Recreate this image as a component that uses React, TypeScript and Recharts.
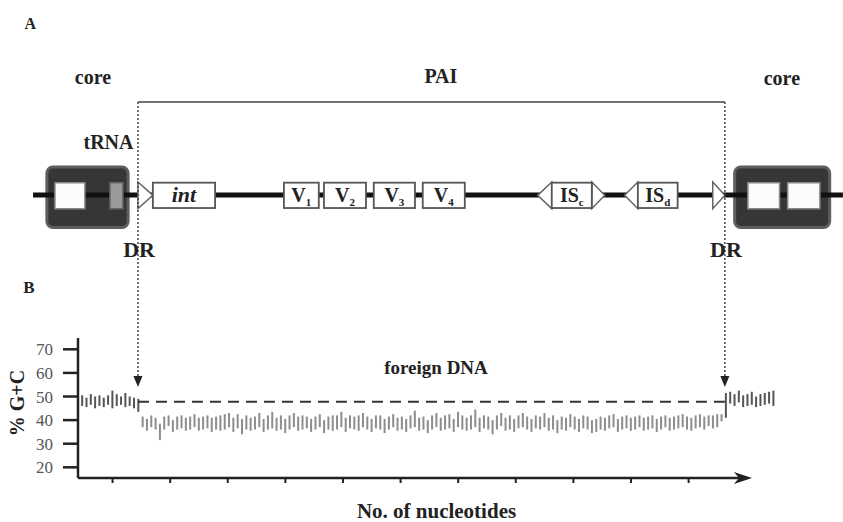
import {
  ComposedChart,
  Bar,
  Scatter,
  XAxis,
  YAxis,
  ReferenceLine,
  ReferenceArea,
  ReferenceDot,
  Label,
} from "recharts";

// %G+C per sliding window (min / max), windows every 0.75 kb
const windowStep = 0.75;
const coreLeftLow = [46, 45.5, 46.5, 45, 46, 45.5, 46.5, 45, 46, 46.5, 45.5, 46, 45, 43.5];
const coreLeftHigh = [50.5, 49.5, 51, 50, 50.5, 49.5, 50.5, 52.5, 51, 50, 51.5, 50, 49.5, 49];
const foreignLow = [
  37, 35.5, 37, 36, 31.5, 36, 37.5, 35, 36, 36.5, 35.5, 36, 37, 35.5, 36,
  36.5, 35, 36, 35.5, 36, 37, 35, 36.5, 34, 36, 35.5, 36, 37, 35, 36,
  36.5, 35.5, 36, 34.5, 36, 37, 35.5, 36, 36.5, 35, 36, 37, 34.5, 36, 35.5,
  36, 37, 35, 36.5, 36, 35.5, 37, 36, 35, 36.5, 36, 34.5, 36, 37, 35.5,
  36, 35, 36.5, 37, 35.5, 36, 34.5, 36, 37, 35.5, 36, 36.5, 35, 37, 36,
  35.5, 36, 37, 35, 36.5, 36, 34, 36, 37.5, 35.5, 36, 35, 36.5, 37, 36,
  35, 36.5, 36, 37, 35.5, 36, 34.5, 36, 35.5, 37, 36, 35, 36.5, 36, 34.5,
  35, 36, 35.5, 36.5, 37, 35, 36, 36.5, 35.5, 36, 37, 35.5, 36, 36.5, 35,
  36, 37, 35.5, 36, 36.5, 37, 36, 35.5, 36.5, 37, 36, 37.5, 36.5, 37, 39.5,
];
const foreignHigh = [
  41.5, 40.5, 42, 41, 38.5, 41.5, 42, 40, 41.5, 42, 41, 41.5, 42.5, 41, 41.5,
  42, 41, 41.5, 42, 42.5, 43, 41, 42.5, 40.5, 42, 41, 41.5, 43, 40.5, 42,
  43.5, 41, 42, 40.5, 42, 43, 41.5, 42, 41.5, 40.5, 41.5, 42.5, 40, 41.5, 42,
  42, 43.5, 41, 42, 41.5, 42, 43, 41.5, 40.5, 42, 42, 40.5, 41.5, 42.5, 41,
  41.5, 40.5, 42, 44, 41, 41.5, 40, 42, 43, 41, 42, 42.5, 40.5, 43.5, 42,
  41, 42, 44.5, 41, 42, 41.5, 40, 42, 43, 41, 42, 40.5, 42, 43, 41.5,
  40.5, 42, 41.5, 43, 41, 42, 40, 41.5, 41, 42.5, 41.5, 40.5, 42, 41.5, 40,
  40.5, 41.5, 41, 42, 42.5, 40.5, 41.5, 42, 41, 41.5, 42, 41, 41.5, 42, 40.5,
  41.5, 42, 41, 41.5, 42, 42.5, 41.5, 41, 42, 42.5, 41.5, 42, 42, 42.5, 42.5,
];
const coreRightLow = [41, 47, 46, 47.5, 45.5, 46, 46.5, 45.5, 46, 46.5, 47, 46];
const coreRightHigh = [51.5, 52, 51, 52.5, 50.5, 51, 52, 50, 51, 51.5, 52, 52.5];

const coreGC = 47.8;
const xTicks = [6, 16, 26, 36, 46, 56, 66, 76, 86, 96, 106];
const yTicks = [20, 30, 40, 50, 60, 70];

// genetic map (kb)
const drSites = [10.41, 112.3];
const coreBlocks = [
  { start: -5.4, end: 8.7 },
  { start: 114.0, end: 130.5 },
];
const coreGenes = [
  { start: -4.0, end: 1.2, kind: "gene" },
  { start: 5.55, end: 7.8, kind: "trna" },
  { start: 116.3, end: 121.8, kind: "gene" },
  { start: 123.2, end: 128.8, kind: "gene" },
];
const islandGenes = [
  { label: "int", sub: "", start: 13.0, end: 23.8, italic: true },
  { label: "V", sub: "1", start: 35.75, end: 41.8, italic: false },
  { label: "V", sub: "2", start: 42.7, end: 50.0, italic: false },
  { label: "V", sub: "3", start: 51.35, end: 58.5, italic: false },
  { label: "V", sub: "4", start: 59.85, end: 67.15, italic: false },
  { label: "IS", sub: "c", start: 82.25, end: 89.2, italic: false },
  { label: "IS", sub: "d", start: 97.2, end: 104.1, italic: false },
];
const repeats = [
  { start: 10.41, end: 13.0, dir: "right" },
  { start: 79.8, end: 82.25, dir: "left" },
  { start: 89.2, end: 91.45, dir: "right" },
  { start: 94.9, end: 97.2, dir: "left" },
  { start: 110.2, end: 112.3, dir: "right" },
];

const gcLow = [...coreLeftLow, ...foreignLow, ...coreRightLow];
const gcHigh = [...coreLeftHigh, ...foreignHigh, ...coreRightHigh];
const gcData = gcLow.map((low, i) => ({
  pos: (i + 1) * windowStep,
  range: [low, gcHigh[i]],
  region:
    i < coreLeftLow.length || i >= coreLeftLow.length + foreignLow.length
      ? "core"
      : "foreign",
}));

// gene midpoints on the track, so the map chart has data for its scales
const mapData = islandGenes.map((g) => ({ pos: (g.start + g.end) / 2, track: 0 }));

const serif = '"Liberation Serif", "Times New Roman", serif';

function CoreBox(p: any) {
  return (
    <rect x={p.x} y={p.y} width={p.width} height={p.height} rx={6}
      fill="#363636" stroke="#5e5e5e" strokeWidth={3} />
  );
}

function GeneBox(p: any) {
  const cx = p.x + p.width / 2;
  const cy = p.y + p.height / 2;
  return (
    <g>
      <rect x={p.x} y={p.y} width={p.width} height={p.height}
        fill="#fff" stroke="#555" strokeWidth={1.8} />
      <text x={cx} y={cy + 7} textAnchor="middle" fontFamily={serif}
        fontWeight="bold" fontStyle={p.italic ? "italic" : "normal"}
        fontSize={p.italic ? 22 : 20} fill="#222">
        {p.label}
        {p.sub ? <tspan fontSize={11} dy={4}>{p.sub}</tspan> : null}
      </text>
    </g>
  );
}

function Flank(p: any) {
  const { x, y, width: w, height: h } = p;
  const pts = p.dir === "right"
    ? `${x},${y} ${x + w},${y + h / 2} ${x},${y + h}`
    : `${x + w},${y} ${x},${y + h / 2} ${x + w},${y + h}`;
  return <polygon points={pts} fill="#fff" stroke="#666" strokeWidth={1.5} />;
}

function DrArrow(p: any) {
  const top = Math.min(p.y1, p.y2);
  const bottom = Math.max(p.y1, p.y2);
  const x = p.x1;
  return (
    <g>
      <line x1={x} y1={top} x2={x} y2={bottom - 10} stroke="#444"
        strokeWidth={1.5} strokeDasharray="2 2" />
      <polygon points={`${x - 4.5},${bottom - 11} ${x + 4.5},${bottom - 11} ${x},${bottom}`}
        fill="#222" />
    </g>
  );
}

function AxisArrow(p: any) {
  const { x1, y1, x2 } = p;
  return (
    <g>
      <line x1={x1} y1={y1} x2={x2 - 8} y2={y1} stroke="#222" strokeWidth={2.5} />
      <polygon
        points={`${x2},${y1} ${x2 - 18},${y1 - 6} ${x2 - 13},${y1} ${x2 - 18},${y1 + 6}`}
        fill="#222" />
    </g>
  );
}

function WindowBar(p: any) {
  return (
    <rect x={p.x} y={p.y} width={p.width} height={p.height}
      fill={p.payload.region === "foreign" ? "#8d8d8d" : "#555"} />
  );
}

function GcLabel(p: any) {
  const vb = p.viewBox;
  const cx = vb.x + 17;
  const cy = vb.y + vb.height / 2 - 5;
  return (
    <text x={cx} y={cy} transform={`rotate(-90 ${cx} ${cy})`} textAnchor="middle"
      dominantBaseline="central" fontFamily={serif} fontWeight="bold"
      fontSize={20} fill="#222">
      % G+C
    </text>
  );
}

const note = (key: string, text: string, x: number, y: number, size: number) => (
  <ReferenceDot key={key} x={x} y={y} r={0} fill="none" stroke="none" ifOverflow="visible"
    label={{ value: text, position: "center", fontSize: size, fontWeight: "bold",
      fontFamily: serif, fill: "#222" }} />
);

export default function App() {
  return (
    <div style={{ position: "absolute", left: 0, top: 0, width: 843, height: 522, background: "#fff" }}>
      {/* panel A: map of the island, same x scale as panel B */}
      <div style={{ position: "absolute", left: 0, top: 0 }}>
        <ComposedChart width={843} height={522} data={mapData}
          margin={{ top: 0, right: 0, bottom: 0, left: 0 }}>
          <XAxis type="number" dataKey="pos" domain={[-13.54, 132.81]} allowDataOverflow hide />
          <YAxis type="number" domain={[-25.15, 15]} allowDataOverflow hide />
          <Scatter dataKey="track" isAnimationActive={false} shape={() => <g />} />
          {coreBlocks.map((c, i) => (
            <ReferenceArea key={"cb" + i} x1={c.start} x2={c.end} y1={-2.5} y2={2.15}
              ifOverflow="visible" shape={(p: any) => <CoreBox {...p} />} />
          ))}
          <ReferenceArea x1={-7.8} x2={132.8} y1={-0.2} y2={0.2} ifOverflow="visible"
            fill="#111" fillOpacity={1} stroke="none" />
          {coreGenes.map((g, i) => (
            <ReferenceArea key={"cg" + i} x1={g.start} x2={g.end} y1={-1.05} y2={0.95}
              ifOverflow="visible"
              fill={g.kind === "trna" ? "#9a9a9a" : "#fbfbfb"} fillOpacity={1}
              stroke={g.kind === "trna" ? "#666" : "#888"} strokeWidth={1.5} />
          ))}
          {repeats.map((r, i) => (
            <ReferenceArea key={"r" + i} x1={r.start} x2={r.end} y1={-1.05} y2={1.0}
              ifOverflow="visible" shape={(p: any) => <Flank {...p} dir={r.dir} />} />
          ))}
          {islandGenes.map((g, i) => (
            <ReferenceArea key={"g" + i} x1={g.start} x2={g.end} y1={-1.0} y2={0.95}
              ifOverflow="visible"
              shape={(p: any) => <GeneBox {...p} label={g.label} sub={g.sub} italic={g.italic} />} />
          ))}
          <ReferenceLine segment={[{ x: drSites[0], y: 7.15 }, { x: drSites[1], y: 7.15 }]}
            ifOverflow="visible" stroke="#444" strokeWidth={1.5} />
          {drSites.map((d, i) => (
            <ReferenceLine key={"dr" + i} segment={[{ x: d, y: 7.15 }, { x: d, y: -14.77 }]}
              ifOverflow="visible" shape={(p: any) => <DrArrow {...p} />} />
          ))}
          {note("A", "A", -8.3, 13.2, 16)}
          {note("B", "B", -8.5, -7.1, 17)}
          {note("c1", "core", 2.6, 9.1, 20)}
          {note("pai", "PAI", 63.0, 9.15, 20)}
          {note("c2", "core", 122.2, 9.0, 20)}
          {note("trna", "tRNA", 5.3, 4.1, 20)}
          {note("dr1", "DR", 10.6, -4.15, 22)}
          {note("dr2", "DR", 112.5, -4.15, 22)}
        </ComposedChart>
      </div>

      {/* panel B: %G+C profile */}
      <div style={{ position: "absolute", left: 0, top: 0 }}>
        <ComposedChart width={843} height={522} data={gcData}
          margin={{ top: 338, right: 68, bottom: 0, left: 0 }}>
          <XAxis type="number" dataKey="pos" domain={[0, 121]} ticks={xTicks} interval={0}
            height={44} axisLine={false} tickSize={5}
            tickLine={{ stroke: "#222", strokeWidth: 2 }} tickFormatter={() => ""}
            label={{ value: "No. of nucleotides", position: "insideBottom", offset: 4, dx: 10,
              fontSize: 21, fontWeight: "bold", fontFamily: serif, fill: "#222" }} />
          <YAxis type="number" domain={[15.47, 74.79]} ticks={yTicks} interval={0} width={78}
            tickSize={15} tickMargin={10}
            axisLine={{ stroke: "#222", strokeWidth: 2.5 }}
            tickLine={{ stroke: "#222", strokeWidth: 2.5 }}
            tick={{ fontSize: 17, fill: "#555", fontFamily: serif }}
            label={<Label content={(p: any) => <GcLabel {...p} />} />} />
          <Bar dataKey="range" barSize={2} isAnimationActive={false}
            shape={(p: any) => <WindowBar {...p} />} />
          <ReferenceLine segment={[{ x: drSites[0], y: coreGC }, { x: drSites[1], y: coreGC }]}
            stroke="#333" strokeWidth={2} strokeDasharray="11 7" />
          <ReferenceLine segment={[{ x: 0, y: 15.47 }, { x: 117, y: 15.47 }]} ifOverflow="visible"
            shape={(p: any) => <AxisArrow {...p} />} />
          <ReferenceDot x={62.15} y={62.5} r={0} fill="none" stroke="none"
            label={{ value: "foreign DNA", position: "center", fontSize: 19, fontWeight: "bold",
              fontFamily: serif, fill: "#222" }} />
        </ComposedChart>
      </div>
    </div>
  );
}
